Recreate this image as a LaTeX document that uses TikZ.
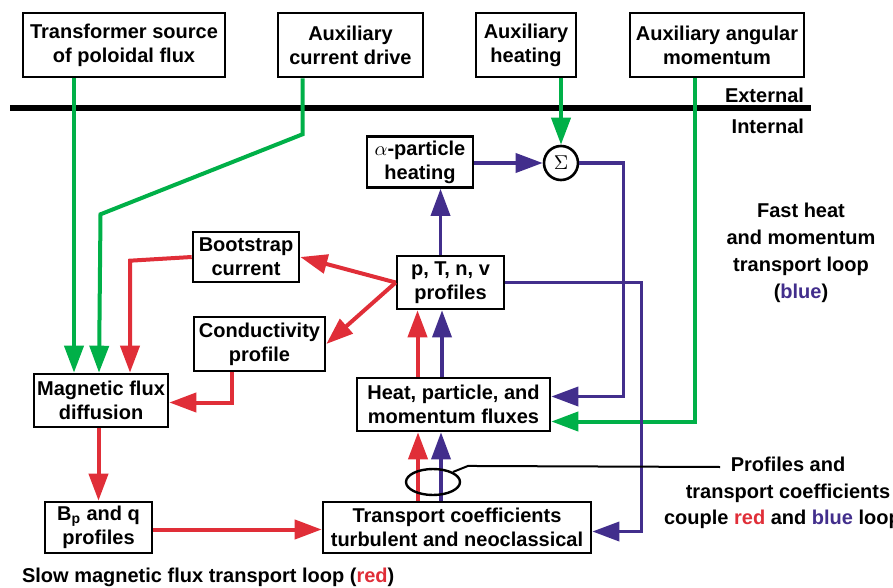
\documentclass[tikz,border=0pt]{standalone}
\usepackage{fontspec}
\setmainfont{Liberation Sans}
\usetikzlibrary{arrows.meta,shapes.geometric}
\definecolor{loopred}{RGB}{224,46,56}
\definecolor{loopblue}{RGB}{66,46,140}
\definecolor{extgreen}{RGB}{0,176,72}

\begin{document}
\begin{tikzpicture}[x=0.5pt,y=-0.5pt,
  >={Triangle[length=13.5pt,width=9.5pt]},
  blk/.style={draw,line width=1.3pt,fill=white,align=center,inner sep=1pt,
    font=\bfseries\fontsize{10}{12}\selectfont},
  lbl/.style={align=center,font=\bfseries\fontsize{10}{13.4}\selectfont},
  gline/.style={extgreen,line width=2pt},
  rline/.style={loopred,line width=2pt},
  bline/.style={loopblue,line width=1.8pt}]
 	\useasboundingbox (0,0) rectangle (893,588);
 
 	% external sources
 	\node (trans)[blk,minimum width=101pt,minimum height=32pt] at (124,45) {Transformer source\\of poloidal flux};
 	\node (acd)[blk,minimum width=72.5pt,minimum height=32pt] at (350.5,45) {Auxiliary\\current drive};
 	\node (aheat)[blk,minimum width=50pt,minimum height=32pt] at (526,45) {Auxiliary\\heating};
 	\node (aang)[blk,minimum width=87pt,minimum height=32pt] at (717,45) {Auxiliary angular\\momentum};
 
 	\draw[line width=3pt] (10,108) -- (811,108);
 	\node (ext)[lbl,anchor=east] at (811,95) {External};
 	\node (int)[lbl,anchor=east] at (811,126) {Internal};
 
 	% internal blocks
 	\node (alpha)[blk,minimum width=53pt,minimum height=25.5pt] at (420,162) {$\alpha$-particle\\heating};
 	\node (sig)[draw,circle,line width=1.3pt,minimum size=17pt,inner sep=0pt] at (561,163) {$\Sigma$};
 	\node (prof)[blk,minimum width=53.5pt,minimum height=26.5pt] at (450.5,282.5) {p, T, n, v\\profiles};
 	\node (flux)[blk,minimum width=96.5pt,minimum height=26.5pt] at (453.5,404.5) {Heat, particle, and\\momentum fluxes};
 	\node (trc)[blk,minimum width=134pt,minimum height=25.5pt] at (457,527.5) {Transport coefficients\\turbulent and neoclassical};
 	\node (boot)[blk,minimum width=53pt,minimum height=25pt] at (246,257) {Bootstrap\\current};
 	\node (cond)[blk,minimum width=65.5pt,minimum height=27pt] at (259.5,344) {Conductivity\\profile};
 	\node (mfd)[blk,minimum width=67pt,minimum height=26.5pt] at (101,400.5) {Magnetic flux\\diffusion};
 	\node (bpq)[blk,minimum width=53.5pt,minimum height=25.5pt] at (98.5,527.5) {B\textsubscript{p} and q\\profiles};
 
 	% green: external drives
 	\draw[gline,->] ([xshift=-13.5pt]mfd.north |- trans.south) -- ([xshift=-13.5pt]mfd.north);
 	\draw[gline,->] ([xshift=-24pt]acd.south) -- ++(0,56) -- ++(-202,80) -- ([xshift=-1pt]mfd.north);
 	\draw[gline,->] (aheat.south -| sig.north) -- (sig.north);
 	\draw[gline,->] ([xshift=-11pt]aang.south) |- ([yshift=-8.5pt]flux.east);
 
 	% blue: fast loop
 	\draw[bline,->] (alpha.east |- sig.west) -- (sig.west);
 	\draw[bline,->] (sig.east) -| ([xshift=36pt,yshift=4pt]flux.east) -- ([yshift=4pt]flux.east);
 	\draw[bline,->] ([xshift=-5pt]prof.north) -- ([xshift=-5pt]prof.north |- alpha.south);
 	\draw[bline,->] (prof.east) -| ([xshift=24.5pt,yshift=-2pt]trc.east) -- ([yshift=-2pt]trc.east);
 	\draw[bline,->] ([xshift=-5.75pt]flux.north) -- ([xshift=-5.75pt]flux.north |- prof.south);
 	\draw[bline,->] ([xshift=-8pt]trc.north) -- ([xshift=-8pt]trc.north |- flux.south);
 
 	% red: slow loop
 	\draw[rline,->] ([xshift=-18pt]flux.north) -- ([xshift=-18pt]flux.north |- prof.south);
 	\draw[rline,->] ([xshift=-19.5pt]trc.north) -- ([xshift=-19.5pt]trc.north |- flux.south);
 	\draw[rline,->] (prof.west) -- (boot.east);
 	\draw[rline,->] (prof.west) -- (cond.east);
 	\draw[rline,->] (boot.west) -- ([xshift=14.5pt,yshift=56pt]mfd.north) -- ([xshift=14.5pt]mfd.north);
 	\draw[rline,->] ([xshift=-13.75pt]cond.south) |- ([yshift=-1pt]mfd.east);
 	\draw[rline,->] (mfd.south -| bpq.north) -- (bpq.north);
 	\draw[rline,->] ([yshift=-1pt]bpq.east) -- ([yshift=-1pt]bpq.east -| trc.west);
 
 	% coupling note
 	\node (cpl)[draw,ellipse,line width=1.2pt,minimum width=27pt,minimum height=13pt,inner sep=0pt] at (433,482) {};
 	\coordinate (noteend) at (720,467);
 	\draw[line width=1pt] (cpl.north east) -- ++(15,-6) -- (noteend);
 	\node (note)[lbl] at (788,493) {Profiles and\\transport coefficients\\couple {\color{loopred}red} and {\color{loopblue}blue} loops};
 
 	\node (fast)[lbl] at (801,253) {Fast heat\\and momentum\\transport loop\\({\color{loopblue}blue})};
 	\node (slow)[lbl,anchor=west] at (15,577) {Slow magnetic flux transport loop ({\color{loopred}red})};
 	
 \end{tikzpicture}
\end{document}
